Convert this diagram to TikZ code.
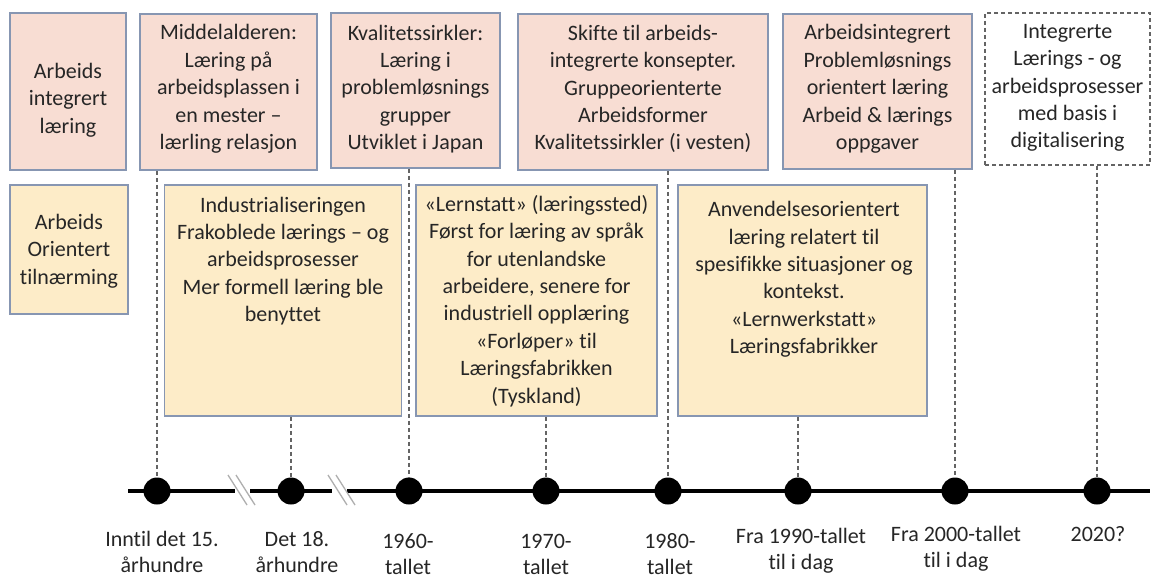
\documentclass[tikz,border=0pt]{standalone}
\usepackage{fontspec}
\setmainfont{Carlito}[Ligatures=NoCommon]

\definecolor{pinkfill}{RGB}{248,221,211}
\definecolor{yellowfill}{RGB}{253,236,200}
\definecolor{boxedge}{RGB}{135,150,178}
\definecolor{guide}{RGB}{100,100,100}
\definecolor{breakmark}{RGB}{175,175,175}
\definecolor{ink}{RGB}{38,38,38}

\begin{document}
\begin{tikzpicture}[x=1pt,y=-1pt,
  pinkbox/.style={draw=boxedge, line width=1.6pt, fill=pinkfill, inner sep=0pt},
  yellowbox/.style={draw=boxedge, line width=1.6pt, fill=yellowfill, inner sep=0pt},
  openbox/.style={draw=guide, line width=1.2pt, dash pattern=on 4pt off 3pt, fill=white, inner sep=0pt},
  boxtext/.style={align=center, text=ink, font=\fontsize{22}{27.4}\selectfont, inner sep=0pt},
  datelabel/.style={align=center, text=ink, font=\fontsize{22}{26}\selectfont, inner sep=0pt},
  guideline/.style={draw=guide, line width=1.3pt, dash pattern=on 4pt off 3pt},
  axis/.style={line width=4pt, draw=black},
  dot/.style={circle, fill=black, minimum size=27pt, inner sep=0pt},
  brk/.style={draw=breakmark, line width=1.3pt}]

\useasboundingbox[fill=white] (0,0) rectangle (1155,575);

% upper row: work-integrated learning
\node[pinkbox, minimum width=116pt, minimum height=157pt] (A) at (68,91.5) {};
\node[pinkbox, minimum width=177pt, minimum height=156pt] (B) at (228.5,92) {};
\node[pinkbox, minimum width=169pt, minimum height=155pt] (C) at (415.5,90.5) {};
\node[pinkbox, minimum width=250pt, minimum height=156pt] (D) at (643,92) {};
\node[pinkbox, minimum width=189pt, minimum height=155pt] (E) at (877.5,91.5) {};
\node[openbox, minimum width=165pt, minimum height=152pt] (F) at (1067.5,89) {};

\node[boxtext] (At) at (68,100) {Arbeids\\integrert\\læring};
\node[boxtext] (Bt) at (228.5,89) {Middelalderen:\\Læring på\\arbeidsplassen i\\en mester –\\lærling relasjon};
\node[boxtext] (Ct) at (415.5,89) {Kvalitetssirkler:\\Læring i\\problemløsnings\\grupper\\Utviklet i Japan};
\node[boxtext] (Dt) at (643,89) {Skifte til arbeids-\\integrerte konsepter.\\Gruppeorienterte\\Arbeidsformer\\Kvalitetssirkler (i vesten)};
\node[boxtext] (Et) at (877.5,89) {Arbeidsintegrert\\Problemløsnings\\orientert læring\\Arbeid \& lærings\\oppgaver};
\node[boxtext] (Ft) at (1067.5,88) {Integrerte\\Lærings - og\\arbeidsprosesser\\med basis i\\digitalisering};

% lower row: work-oriented approach
\node[yellowbox, minimum width=118pt, minimum height=129pt] (G) at (69,249.5) {};
\node[yellowbox, minimum width=237pt, minimum height=231pt] (H) at (283,300.5) {};
\node[yellowbox, minimum width=241pt, minimum height=231pt] (I) at (536.5,300.5) {};
\node[yellowbox, minimum width=249pt, minimum height=231pt] (J) at (802.5,300.5) {};

\node[boxtext] (Gt) at (69,251) {Arbeids\\Orientert\\tilnærming};
\node[boxtext] (Ht) at (283,261) {Industrialiseringen\\Frakoblede lærings – og\\arbeidsprosesser\\Mer formell læring ble\\benyttet};
\node[boxtext] (It) at (536.5,301) {«Lernstatt» (læringssted)\\Først for læring av språk\\for utenlandske\\arbeidere, senere for\\industriell opplæring\\«Forløper» til\\Læringsfabrikken\\(Tyskland)};
\node[boxtext] (Jt) at (804,279.5) {Anvendelsesorientert\\læring relatert til\\spesifikke situasjoner og\\kontekst.\\«Lernwerkstatt»\\Læringsfabrikker};

% time axis with two breaks
\coordinate (axL) at (128,491);
\coordinate (g1a) at (235,491);
\coordinate (g1b) at (250,491);
\coordinate (g2a) at (332,491);
\coordinate (g2b) at (347,491);
\coordinate (axR) at (1150,491);
\draw[axis] (axL) -- (g1a);
\draw[axis] (g1b) -- (g2a);
\draw[axis] (g2b) -- (axR);
\draw[brk] (228,475) -- (247,505);
\draw[brk] (236,475) -- (255,505);
\draw[brk] (328,475) -- (347,505);
\draw[brk] (336,475) -- (355,505);

% milestones
\node[dot] (d1) at (157,491) {};
\node[dot] (d2) at (291,491) {};
\node[dot] (d3) at (409,491) {};
\node[dot] (d4) at (546,491) {};
\node[dot] (d5) at (668,491) {};
\node[dot] (d6) at (798,491) {};
\node[dot] (d7) at (955,491) {};
\node[dot] (d8) at (1097,491) {};

% dashed drop lines from the boxes to their milestones
\draw[guideline] (d1 |- B.south) -- (d1.north);
\draw[guideline] (d2 |- H.south) -- (d2.north);
\draw[guideline] (d3 |- C.south) -- (d3.north);
\draw[guideline] (d4 |- I.south) -- (d4.north);
\draw[guideline] (d5 |- D.south) -- (d5.north);
\draw[guideline] (d6 |- J.south) -- (d6.north);
\draw[guideline] (d7 |- E.south) -- (d7.north);
\draw[guideline] (d8 |- F.south) -- (d8.north);

% dates
\node[datelabel] (l1) at (162,552) {Inntil det 15.\\århundre};
\node[datelabel] (l2) at (297,552) {Det 18.\\århundre};
\node[datelabel] (l3) at (408,554) {1960-\\tallet};
\node[datelabel] (l4) at (546,554) {1970-\\tallet};
\node[datelabel] (l5) at (670,554) {1980-\\tallet};
\node[datelabel] (l6) at (801,551) {Fra 1990-tallet\\til i dag};
\node[datelabel] (l7) at (956,549) {Fra 2000-tallet\\til i dag};
\node[datelabel] (l8) at (1098,534) {2020?};
\end{tikzpicture}
\end{document}
